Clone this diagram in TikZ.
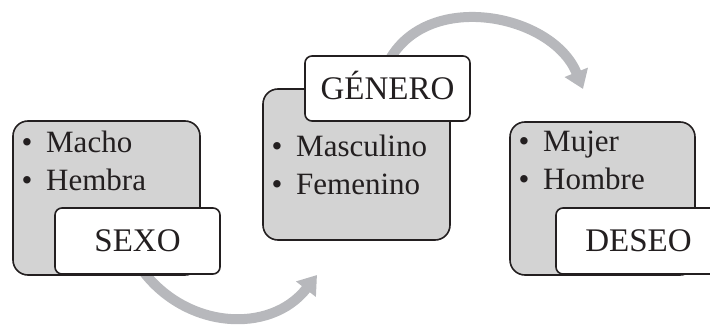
\documentclass[tikz,border=0pt]{standalone}
\usepackage{fontspec}
\setmainfont{Liberation Serif}
\usetikzlibrary{arrows.meta}
\definecolor{boxgray}{RGB}{211,211,211}
\definecolor{arrowgray}{RGB}{183,184,188}
\definecolor{ink}{RGB}{35,31,32}
\tikzset{
  graybox/.style={draw=ink, line width=1.6pt, fill=boxgray, rounded corners=15pt,
    minimum width=187pt, minimum height=154pt, inner sep=0pt},
  headbox/.style={draw=ink, line width=1.6pt, fill=white, rounded corners=7pt,
    minimum width=165pt, minimum height=66pt, inner sep=0pt,
    font=\fontsize{33}{38}\selectfont, text=ink, text height=21.8pt, text depth=0pt},
  item/.style={anchor=base west, inner sep=0pt, font=\fontsize{31}{38}\selectfont, text=ink},
  flow/.style={draw=arrowgray, line width=10pt, -{Triangle[width=24pt,length=18pt]}}
}
\newcommand{\bul}[1]{\makebox[24.5pt][l]{•}#1}
\begin{document}
\begin{tikzpicture}[x=1pt,y=1pt]
\useasboundingbox (0,0) rectangle (710,327);
\clip (0,0) rectangle (710,327);
% arrows (behind)
\coordinate (a1) at (140,60);
\coordinate (a2) at (317,52);
\coordinate (t1) at (390,268);
\coordinate (t2) at (583,238);
\draw[flow] (a1) to[out=-55, in=-128, looseness=1.1] (a2);
\draw[flow] (t1) to[out=60, in=112, looseness=1.05] (t2);
% gray boxes
\node[graybox] (g1) at (106.5,129) {};
\node[graybox, minimum height=151pt] (g2) at (356.5,162.5) {};
\node[graybox, minimum width=185pt, minimum height=153pt] (g3) at (602.5,128.5) {};
% headings
\node[headbox] (sexo) at (137.5,86) {SEXO};
\node[headbox, minimum height=65pt] (genero) at (387.5,238.5) {GÉNERO};
\node[headbox] (deseo) at (638.5,86) {DESEO};
% items
\node[item] (i11) at (21.5,174) {\bul{Macho}};
\node[item] (i12) at (21.5,136) {\bul{Hembra}};
\node[item] (i21) at (271.5,170) {\bul{Masculino}};
\node[item] (i22) at (271.5,132) {\bul{Femenino}};
\node[item] (i31) at (518.5,175) {\bul{Mujer}};
\node[item] (i32) at (518.5,137) {\bul{Hombre}};
\end{tikzpicture}
\end{document}
